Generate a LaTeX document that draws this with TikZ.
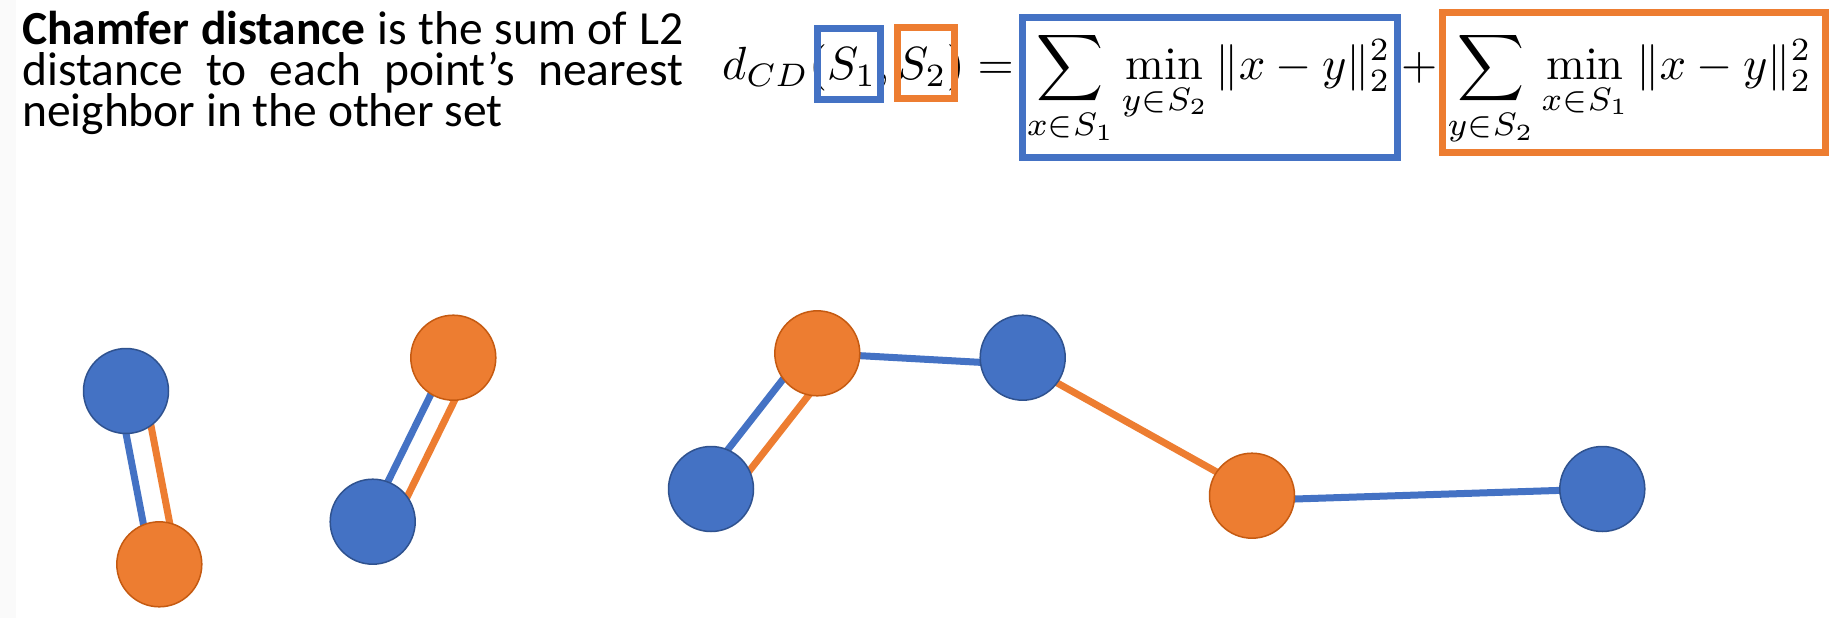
\documentclass[tikz,border=0pt]{standalone}
\usepackage{fontspec}
\newfontfamily\calibri{Carlito}
\usepackage{graphicx}
\usetikzlibrary{calc,backgrounds}
\definecolor{cblue}{HTML}{4472C4}
\definecolor{cbluedk}{HTML}{2F528F}
\definecolor{corange}{HTML}{ED7D31}
\definecolor{corangedk}{HTML}{C55A11}
\begin{document}
\begin{tikzpicture}[x=1pt,y=-1pt,
  bpt/.style={circle,fill=cblue,draw=cbluedk,line width=1.5pt,minimum size=85pt,inner sep=0pt},
  opt/.style={circle,fill=corange,draw=corangedk,line width=1.5pt,minimum size=85pt,inner sep=0pt},
  bline/.style={draw=cblue,line width=7pt},
  oline/.style={draw=corange,line width=7pt},
  bframe/.style={draw=cblue,line width=7pt},
  oframe/.style={draw=corange,line width=7pt}]
\useasboundingbox (0,0) rectangle (1839,618);
% points
\node[bpt] (bA) at (126,391) {};
\node[opt] (oA) at (159.3,564.3) {};
\node[bpt] (bB) at (372.7,521.7) {};
\node[opt] (oB) at (453.3,357.7) {};
\node[bpt] (bC) at (711,489) {};
\node[opt] (oC) at (817.3,353.3) {};
\node[bpt] (bD) at (1022.7,357.7) {};
\node[opt] (oD) at (1252,495.7) {};
\node[bpt] (bE) at (1602.3,489) {};
\begin{scope}[on background layer]
\fill[white] (0,0) rectangle (1839,618);
\fill[black!2] (0,0) rectangle (16,618);
\draw[bline] ($(bA)+(-7.86,1.51)$) -- ($(oA)+(-7.86,1.51)$);
\draw[oline] ($(bA)+(17.68,-3.40)$) -- ($(oA)+(17.68,-3.40)$);
\draw[bline] ($(bB)+(-3.59,-1.76)$) -- ($(oB)+(-3.59,-1.76)$);
\draw[oline] ($(bB)+(17.95,8.82)$) -- ($(oB)+(17.95,8.82)$);
\draw[bline] ($(bC)+(-8.66,-6.78)$) -- ($(oC)+(-8.66,-6.78)$);
\draw[oline] ($(bC)+(14.95,11.72)$) -- ($(oC)+(14.95,11.72)$);
\draw[bline] (oC.center) -- ($(bD)+(0,7)$);
\draw[oline] ($(bD)+(0,6)$) -- ($(oD)+(0,-4)$);
\draw[bline] ($(oD)+(0,4.7)$) -- (bE.center);
\end{scope}
% text
\node[anchor=base west,inner sep=0pt] (txt) at (22,45) {\parbox[t]{661pt}{\calibri\fontsize{47.5pt}{41pt}\selectfont \textbf{Chamfer distance} is the sum of L2\linebreak distance to each point’s nearest\linebreak neighbor in the other set}};
% formula
\node[anchor=base west,inner sep=0pt] (eq) at (722,80) {\resizebox{1089pt}{!}{$\displaystyle d_{CD}(S_1,S_2)=\sum_{x\in S_1}\min_{y\in S_2}\|x-y\|_2^2+\sum_{y\in S_2}\min_{x\in S_1}\|x-y\|_2^2$}};
\draw[bframe] (817.5,28.5) rectangle (880.5,99.5);
\draw[oframe] (897.5,27.5) rectangle (954.5,98.5);
\draw[bframe] (1022.5,17.5) rectangle (1397.5,157.5);
\draw[oframe] (1442.5,12.5) rectangle (1825.5,152.5);
\end{tikzpicture}
\end{document}
